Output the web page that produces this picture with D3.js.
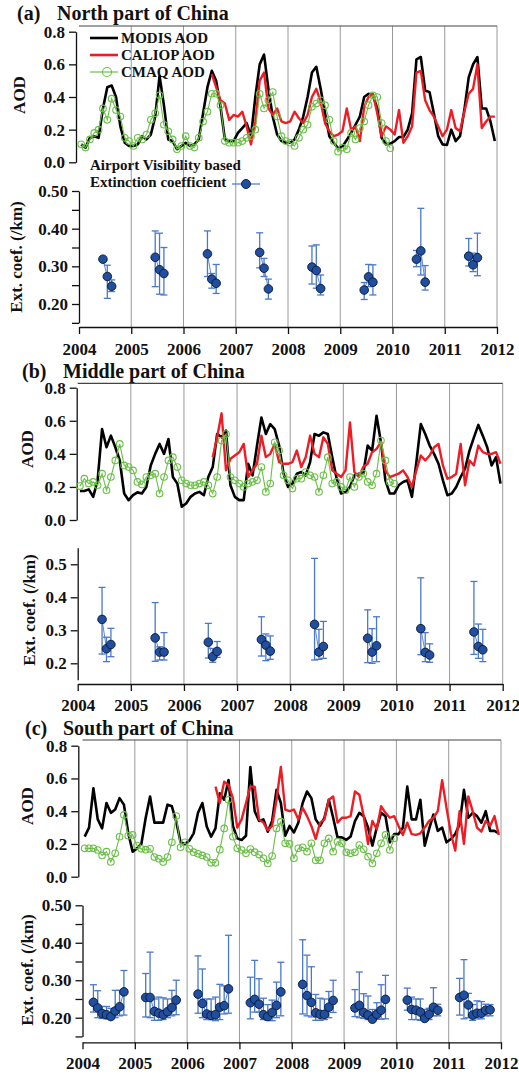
<!DOCTYPE html>
<html>
<head>
<meta charset="utf-8">
<script src="https://cdn.jsdelivr.net/npm/d3@7"></script>
<style>
  body { margin: 0; background: #fff; }
  text { font-family: "Liberation Serif", "Times New Roman", serif; font-weight: bold; fill: #111; }
</style>
</head>
<body>
<svg id="chart" width="519" height="1074"></svg>
<script>
// monthly series, index 0 = Jan 2004
const YEAR_TICKS = d3.range(2004, 2013);
const CALIOP_START = 30;   // Jul 2006

const modisNorth = [
  0.11, 0.09, 0.15, 0.16, 0.15, 0.33, 0.46, 0.47, 0.40, 0.22, 0.12, 0.10,
  0.10, 0.11, 0.16, 0.14, 0.17, 0.28, 0.53, 0.35, 0.14, 0.13, 0.08, 0.10,
  0.12, 0.10, 0.11, 0.14, 0.30, 0.46, 0.56, 0.50, 0.34, 0.14, 0.13, 0.13,
  0.18, 0.21, 0.24, 0.16, 0.40, 0.60, 0.66, 0.45, 0.28, 0.17, 0.13, 0.12,
  0.12, 0.14, 0.20, 0.28, 0.40, 0.55, 0.585, 0.45, 0.30, 0.16, 0.12, 0.086,
  0.096, 0.137, 0.18, 0.23, 0.28, 0.40, 0.42, 0.41, 0.33, 0.15, 0.11, 0.115,
  0.13, 0.155, 0.155, 0.20, 0.30, 0.63, 0.645, 0.44, 0.43, 0.30, 0.16, 0.11,
  0.106, 0.20, 0.13, 0.16, 0.32, 0.52, 0.60, 0.645, 0.33, 0.33, 0.25, 0.13
];
const caliopNorth = [
  0.54, 0.46, 0.38, 0.36, 0.26, 0.29,
  0.28, 0.31, 0.22, 0.11, 0.25, 0.50, 0.55, 0.33, 0.29, 0.33, 0.25, 0.24,
  0.25, 0.31, 0.27, 0.24, 0.29, 0.40, 0.45, 0.37, 0.24, 0.19, 0.16, 0.17,
  0.19, 0.33, 0.20, 0.22, 0.13, 0.34, 0.40, 0.42, 0.30, 0.16, 0.22, 0.20,
  0.17, 0.32, 0.12, 0.16, 0.22, 0.55, 0.56, 0.38, 0.32, 0.28, 0.22, 0.16,
  0.20, 0.32, 0.21, 0.19, 0.31, 0.42, 0.45, 0.60, 0.21, 0.25, 0.28, 0.28
];
const cmaqNorth = [
  0.11, 0.09, 0.14, 0.18, 0.20, 0.33, 0.26, 0.39, 0.32, 0.28, 0.15, 0.13,
  0.10, 0.15, 0.14, 0.17, 0.26, 0.30, 0.41, 0.23, 0.19, 0.14, 0.08, 0.10,
  0.16, 0.10, 0.09, 0.15, 0.25, 0.31, 0.42, 0.42, 0.35, 0.13, 0.12, 0.12,
  0.12, 0.13, 0.15, 0.16, 0.20, 0.42, 0.33, 0.38, 0.43, 0.28, 0.16, 0.13,
  0.12, 0.10, 0.15, 0.20, 0.23, 0.34, 0.36, 0.38, 0.35, 0.26, 0.13, 0.065,
  0.09, 0.08, 0.18, 0.14, 0.21, 0.25, 0.35, 0.41, 0.40, 0.24, 0.13, 0.086
];

const modisMiddle = [
  0.175, 0.175, 0.185, 0.14, 0.24, 0.55, 0.44, 0.51, 0.44, 0.36, 0.16, 0.12,
  0.15, 0.167, 0.16, 0.20, 0.33, 0.40, 0.46, 0.40, 0.49, 0.26, 0.22, 0.08,
  0.10, 0.14, 0.16, 0.17, 0.15, 0.26, 0.32, 0.52, 0.50, 0.54, 0.21, 0.14,
  0.12, 0.12, 0.34, 0.27, 0.45, 0.62, 0.52, 0.58, 0.55, 0.45, 0.28, 0.20,
  0.22, 0.28, 0.29, 0.27, 0.35, 0.52, 0.51, 0.53, 0.52, 0.38, 0.25, 0.16,
  0.17, 0.20, 0.27, 0.28, 0.28, 0.45, 0.42, 0.63, 0.47, 0.24, 0.16, 0.16,
  0.21, 0.23, 0.24, 0.14, 0.35, 0.58, 0.52, 0.45, 0.40, 0.34, 0.24, 0.15,
  0.16, 0.20, 0.26, 0.31, 0.42, 0.50, 0.575, 0.51, 0.44, 0.33, 0.38, 0.22
];
const caliopMiddle = [
  0.38, 0.50, 0.645, 0.30, 0.37, 0.39,
  0.41, 0.46, 0.26, 0.30, 0.34, 0.51, 0.38, 0.40, 0.46, 0.35, 0.34, 0.34,
  0.35, 0.42, 0.32, 0.38, 0.51, 0.40, 0.38, 0.50, 0.46, 0.30, 0.28, 0.26,
  0.30, 0.59, 0.29, 0.26, 0.32, 0.34, 0.41, 0.43, 0.47, 0.30, 0.26, 0.27,
  0.28, 0.30, 0.26, 0.20, 0.30, 0.39, 0.36, 0.39, 0.44, 0.46, 0.33, 0.25,
  0.26, 0.28, 0.46, 0.21, 0.36, 0.33, 0.45, 0.41, 0.40, 0.40, 0.41, 0.34
];
const cmaqMiddle = [
  0.205, 0.25, 0.22, 0.23, 0.21, 0.28, 0.18, 0.26, 0.36, 0.46, 0.33, 0.32,
  0.30, 0.23, 0.215, 0.26, 0.27, 0.28, 0.16, 0.26, 0.36, 0.38, 0.32, 0.24,
  0.22, 0.21, 0.21, 0.22, 0.23, 0.21, 0.16, 0.26, 0.48, 0.52, 0.26, 0.24,
  0.22, 0.20, 0.22, 0.23, 0.24, 0.32, 0.17, 0.22, 0.47, 0.42, 0.27, 0.24,
  0.19, 0.25, 0.25, 0.29, 0.27, 0.26, 0.17, 0.27, 0.38, 0.22, 0.23, 0.20,
  0.18, 0.26, 0.20, 0.26, 0.28, 0.23, 0.21, 0.28, 0.48, 0.36, 0.23, 0.22
];

const modisSouth = [
  0.245, 0.30, 0.54, 0.35, 0.295, 0.45, 0.39, 0.41, 0.48, 0.44, 0.265, 0.153,
  0.173, 0.20, 0.36, 0.49, 0.33, 0.33, 0.33, 0.44, 0.43, 0.336, 0.21, 0.20,
  0.22, 0.265, 0.39, 0.45, 0.306, 0.244, 0.295, 0.51, 0.47, 0.59, 0.31, 0.234,
  0.224, 0.25, 0.67, 0.40, 0.34, 0.35, 0.275, 0.34, 0.53, 0.45, 0.25, 0.31,
  0.27, 0.33, 0.45, 0.52, 0.48, 0.35, 0.31, 0.36, 0.47, 0.36, 0.24, 0.24,
  0.225, 0.245, 0.34, 0.39, 0.37, 0.30, 0.19, 0.30, 0.39, 0.37, 0.21, 0.26,
  0.26, 0.30, 0.55, 0.35, 0.35, 0.47, 0.19, 0.29, 0.38, 0.28, 0.30, 0.21,
  0.23, 0.26, 0.32, 0.53, 0.36, 0.39, 0.37, 0.33, 0.40, 0.28, 0.28, 0.265
];
const caliopSouth = [
  0.55, 0.45, 0.58, 0.56, 0.48, 0.30,
  0.35, 0.45, 0.55, 0.55, 0.35, 0.33, 0.285, 0.31, 0.47, 0.67, 0.41, 0.40,
  0.41, 0.35, 0.42, 0.37, 0.31, 0.23, 0.33, 0.35, 0.47, 0.49, 0.33, 0.36,
  0.36, 0.37, 0.52, 0.50, 0.37, 0.20, 0.34, 0.29, 0.43, 0.39, 0.36, 0.37,
  0.31, 0.255, 0.33, 0.26, 0.255, 0.265, 0.30, 0.34, 0.36, 0.40, 0.59, 0.42,
  0.265, 0.16, 0.40, 0.20, 0.49, 0.40, 0.30, 0.275, 0.34, 0.31, 0.37, 0.255
];
const cmaqSouth = [
  0.173, 0.173, 0.173, 0.163, 0.13, 0.153, 0.09, 0.143, 0.244, 0.377, 0.25, 0.255,
  0.19, 0.17, 0.165, 0.17, 0.12, 0.11, 0.09, 0.12, 0.21, 0.37, 0.18, 0.21,
  0.17, 0.15, 0.14, 0.13, 0.12, 0.085, 0.085, 0.165, 0.295, 0.47, 0.244, 0.173,
  0.163, 0.143, 0.169, 0.15, 0.135, 0.112, 0.081, 0.126, 0.295, 0.336, 0.204, 0.20,
  0.112, 0.173, 0.18, 0.153, 0.204, 0.10, 0.10, 0.204, 0.234, 0.153, 0.214, 0.204,
  0.149, 0.143, 0.149, 0.193, 0.167, 0.122, 0.081, 0.143, 0.204, 0.255, 0.163, 0.234
];

// airport visibility based extinction coefficient, one row per year 2004-2011
const extMonthsNorth = [5, 6, 7];            // Jun-Aug
const extMonthsSouth = [2, 3, 4, 5, 6, 7, 8, 9];  // Mar-Oct

const extNorthMean = [0.319, 0.273, 0.247, 0.324, 0.291, 0.281, 0.333, 0.266, 0.255, 0.337, 0.295, 0.240,
                      0.298, 0.289, 0.241, 0.237, 0.272, 0.258, 0.319, 0.341, 0.258, 0.327, 0.304, 0.323];
const extNorthLow  = [0.319, 0.215, 0.233, 0.246, 0.226, 0.224, 0.273, 0.242, 0.228, 0.296, 0.273, 0.213,
                      0.253, 0.242, 0.224, 0.212, 0.246, 0.224, 0.299, 0.277, 0.237, 0.301, 0.286, 0.275];
const extNorthHigh = [0.319, 0.303, 0.264, 0.394, 0.388, 0.350, 0.394, 0.281, 0.305, 0.389, 0.321, 0.266,
                      0.354, 0.357, 0.277, 0.257, 0.305, 0.304, 0.342, 0.454, 0.302, 0.374, 0.335, 0.388];

const extMiddleMean = [0.333, 0.244, 0.257, 0.277, 0.234, 0.234, 0.264, 0.220, 0.236, 0.272, 0.255, 0.237,
                       0.318, 0.234, 0.251, 0.276, 0.234, 0.253, 0.305, 0.233, 0.225, 0.295, 0.251, 0.241];
const extMiddleLow  = [0.228, 0.205, 0.220, 0.206, 0.210, 0.210, 0.216, 0.203, 0.218, 0.222, 0.208, 0.212,
                       0.210, 0.212, 0.215, 0.202, 0.200, 0.205, 0.226, 0.205, 0.203, 0.227, 0.215, 0.205];
const extMiddleHigh = [0.430, 0.279, 0.306, 0.384, 0.250, 0.293, 0.321, 0.245, 0.266, 0.341, 0.289, 0.283,
                       0.518, 0.303, 0.327, 0.362, 0.305, 0.341, 0.459, 0.293, 0.259, 0.448, 0.319, 0.303];

const extSouthMean = [
  0.241, 0.226, 0.211, 0.208, 0.203, 0.218, 0.229, 0.269,
  0.254, 0.254, 0.217, 0.212, 0.208, 0.216, 0.227, 0.247,
  0.263, 0.238, 0.210, 0.206, 0.208, 0.228, 0.232, 0.277,
  0.240, 0.249, 0.236, 0.208, 0.203, 0.214, 0.233, 0.269,
  0.289, 0.259, 0.241, 0.213, 0.209, 0.209, 0.228, 0.246,
  0.226, 0.233, 0.214, 0.207, 0.196, 0.209, 0.220, 0.249,
  0.247, 0.222, 0.220, 0.215, 0.198, 0.209, 0.228, 0.220,
  0.254, 0.260, 0.234, 0.207, 0.212, 0.212, 0.220, 0.221
];
const extSouthLow = [
  0.215, 0.200, 0.198, 0.197, 0.197, 0.200, 0.205, 0.207,
  0.202, 0.200, 0.193, 0.193, 0.195, 0.200, 0.205, 0.208,
  0.212, 0.200, 0.195, 0.195, 0.192, 0.195, 0.210, 0.212,
  0.197, 0.215, 0.215, 0.195, 0.193, 0.192, 0.200, 0.205,
  0.210, 0.205, 0.202, 0.193, 0.193, 0.195, 0.200, 0.214,
  0.203, 0.200, 0.198, 0.195, 0.195, 0.196, 0.196, 0.197,
  0.220, 0.195, 0.195, 0.193, 0.193, 0.195, 0.205, 0.205,
  0.207, 0.197, 0.200, 0.193, 0.197, 0.197, 0.205, 0.205
];
const extSouthHigh = [
  0.288, 0.272, 0.230, 0.230, 0.225, 0.273, 0.273, 0.326,
  0.318, 0.375, 0.250, 0.255, 0.253, 0.250, 0.273, 0.300,
  0.365, 0.330, 0.250, 0.250, 0.255, 0.289, 0.285, 0.420,
  0.308, 0.353, 0.304, 0.252, 0.235, 0.247, 0.295, 0.348,
  0.408, 0.367, 0.336, 0.262, 0.252, 0.250, 0.270, 0.300,
  0.275, 0.322, 0.264, 0.258, 0.222, 0.240, 0.288, 0.313,
  0.279, 0.255, 0.250, 0.250, 0.222, 0.225, 0.280, 0.236,
  0.305, 0.355, 0.265, 0.235, 0.245, 0.243, 0.236, 0.235
];

const COLORS = { modis: '#000', caliop: '#ee1c24', cmaq: '#6abf47',
                 extFill: '#1f4f9e', extLine: '#4a78cc', grid: '#9a9a9a' };

const panels = [
  { letter: '(a)', title: 'North part of China', letterX: 17, titleX: 57, titleY: 20,
    modis: modisNorth, caliop: caliopNorth, cmaq: cmaqNorth,
    extMonths: extMonthsNorth, extMean: extNorthMean, extLow: extNorthLow, extHigh: extNorthHigh,
    x0: 79, x1: 497, top: 26, aod08: 31.7, aod0: 162.3, aodAxisX: 76,
    ext20: 304, ext50: 191, extTop: 0.50, extTicks: d3.range(0.15, 0.5001, 0.05), extFmt: '.2f',
    axisY: 327, yearY: 355, aodLabel: [19, 95], extLabel: [16, 257], legend: true },
  { letter: '(b)', title: 'Middle part of China', letterX: 22, titleX: 63, titleY: 378,
    modis: modisMiddle, caliop: caliopMiddle, cmaq: cmaqMiddle,
    extMonths: extMonthsNorth, extMean: extMiddleMean, extLow: extMiddleLow, extHigh: extMiddleHigh,
    x0: 77.7, x1: 502.7, top: 383.3, aod08: 387.7, aod0: 520, aodAxisX: 76.7,
    ext20: 663.3, ext50: 564.3, extTop: 0.55, extTicks: [0.2, 0.3, 0.4, 0.5], extFmt: '.1f',
    axisY: 684, yearY: 711, aodLabel: [27, 449], extLabel: [29, 610], legend: false },
  { letter: '(c)', title: 'South part of China', letterX: 25, titleX: 63, titleY: 735,
    modis: modisSouth, caliop: caliopSouth, cmaq: cmaqSouth,
    extMonths: extMonthsSouth, extMean: extSouthMean, extLow: extSouthLow, extHigh: extSouthHigh,
    x0: 82.5, x1: 501, top: 740, aod08: 745.7, aod0: 876.7, aodAxisX: 78.3,
    ext20: 1017.7, ext50: 905.3, extTop: 0.50, extTicks: d3.range(0.15, 0.5001, 0.05), extFmt: '.2f',
    axisY: 1042.3, yearY: 1069, aodLabel: [27, 806], extLabel: [27, 970], legend: false }
];

const svg = d3.select('#chart');

function styleAxis(g) {
  g.selectAll('path.domain').attr('stroke', '#111').attr('stroke-width', 1.3);
  g.selectAll('.tick line').attr('stroke', '#111').attr('stroke-width', 1.3);
  g.selectAll('.tick text')
    .attr('font-family', '"Liberation Serif", "Times New Roman", serif')
    .attr('font-weight', 'bold').attr('font-size', 17).attr('fill', '#111');
}

function drawPanel(p) {
  const g = svg.append('g');
  const x = d3.scaleLinear().domain([2004, 2012]).range([p.x0, p.x1]);
  const aodY = d3.scaleLinear().domain([0, 0.8]).range([p.aod0, p.aod08]);
  const base = d3.scaleLinear().domain([0.2, 0.5]).range([p.ext20, p.ext50]);
  const extY = d3.scaleLinear().domain([0.15, p.extTop]).range([base(0.15), base(p.extTop)]);
  const monthX = i => x(2004 + (i + 0.5) / 12);

  // title
  g.append('text').attr('x', p.letterX).attr('y', p.titleY).attr('font-size', 20).text(p.letter);
  g.append('text').attr('x', p.titleX).attr('y', p.titleY).attr('font-size', 20).text(p.title);

  // year grid lines and frame
  g.append('g').selectAll('line').data(YEAR_TICKS.slice(1)).join('line')
    .attr('x1', d => x(d)).attr('x2', d => x(d))
    .attr('y1', p.top).attr('y2', p.axisY)
    .attr('stroke', COLORS.grid).attr('stroke-width', 1);
  g.append('line').attr('x1', x(2004)).attr('x2', x(2012))
    .attr('y1', p.top).attr('y2', p.top).attr('stroke', '#444').attr('stroke-width', 1.2);

  // axes
  g.append('g').attr('transform', `translate(0,${p.axisY})`)
    .call(d3.axisBottom(x).tickValues(YEAR_TICKS).tickFormat(d3.format('d'))
      .tickSize(7).tickSizeOuter(0).tickPadding(5))
    .call(styleAxis)
    .call(a => a.selectAll('.tick text').attr('dy', null).attr('y', p.yearY - p.axisY));

  g.append('g').attr('transform', `translate(${p.aodAxisX},0)`)
    .call(d3.axisLeft(aodY).tickValues([0, 0.2, 0.4, 0.6, 0.8]).tickFormat(d3.format('.1f'))
      .tickSize(7).tickSizeOuter(0).tickPadding(4))
    .call(styleAxis);

  const major = [0.2, 0.3, 0.4, 0.5];
  const fmt = d3.format(p.extFmt);
  g.append('g').attr('transform', `translate(${p.x0},0)`)
    .call(d3.axisLeft(extY).tickValues(p.extTicks)
      .tickFormat(d => major.some(m => Math.abs(m - d) < 1e-6) ? fmt(d) : '')
      .tickSize(7).tickSizeOuter(0).tickPadding(4))
    .call(styleAxis);

  // axis titles
  g.append('text').attr('transform', `translate(${p.aodLabel[0]},${p.aodLabel[1]}) rotate(-90)`)
    .attr('text-anchor', 'middle').attr('dominant-baseline', 'central')
    .attr('font-size', 17).text('AOD');
  g.append('text').attr('transform', `translate(${p.extLabel[0]},${p.extLabel[1]}) rotate(-90)`)
    .attr('text-anchor', 'middle').attr('dominant-baseline', 'central')
    .attr('font-size', 17).text('Ext. coef. (/km)');

  if (p.legend) drawLegend(g);

  // AOD series
  const line = start => d3.line().x((d, i) => monthX(start + i)).y(d => aodY(d));
  g.append('path').datum(p.modis).attr('d', line(0))
    .attr('fill', 'none').attr('stroke', COLORS.modis).attr('stroke-width', 2.6)
    .attr('stroke-linejoin', 'round');
  g.append('path').datum(p.caliop).attr('d', line(CALIOP_START))
    .attr('fill', 'none').attr('stroke', COLORS.caliop).attr('stroke-width', 2.4)
    .attr('stroke-linejoin', 'round');
  g.append('path').datum(p.cmaq).attr('d', line(0))
    .attr('fill', 'none').attr('stroke', COLORS.cmaq).attr('stroke-width', 1.1);
  g.append('g').selectAll('circle').data(p.cmaq).join('circle')
    .attr('cx', (d, i) => monthX(i)).attr('cy', d => aodY(d)).attr('r', 3.3)
    .attr('fill', 'none').attr('stroke', COLORS.cmaq).attr('stroke-width', 1.1);

  // extinction coefficient: points per year, joined within the year
  const n = p.extMonths.length;
  const pts = p.extMean.map((v, k) => ({
    x: 2004 + Math.floor(k / n) + (p.extMonths[k % n] + 0.5) / 12,
    year: Math.floor(k / n), v, lo: p.extLow[k], hi: p.extHigh[k]
  }));
  const byYear = d3.groups(pts, d => d.year).map(d => d[1]);
  g.append('g').selectAll('path').data(byYear).join('path')
    .attr('d', d3.line().x(d => x(d.x)).y(d => extY(d.v)))
    .attr('fill', 'none').attr('stroke', COLORS.extLine).attr('stroke-width', 0.9);
  const eb = g.append('g').attr('stroke', COLORS.extLine).attr('stroke-width', 1.3);
  eb.selectAll('line.bar').data(pts).join('line').attr('class', 'bar')
    .attr('x1', d => x(d.x)).attr('x2', d => x(d.x))
    .attr('y1', d => extY(d.lo)).attr('y2', d => extY(d.hi));
  eb.selectAll('line.capHi').data(pts).join('line').attr('class', 'capHi')
    .attr('x1', d => x(d.x) - 3.5).attr('x2', d => x(d.x) + 3.5)
    .attr('y1', d => extY(d.hi)).attr('y2', d => extY(d.hi));
  eb.selectAll('line.capLo').data(pts).join('line').attr('class', 'capLo')
    .attr('x1', d => x(d.x) - 3.5).attr('x2', d => x(d.x) + 3.5)
    .attr('y1', d => extY(d.lo)).attr('y2', d => extY(d.lo));
  g.append('g').selectAll('circle').data(pts).join('circle')
    .attr('cx', d => x(d.x)).attr('cy', d => extY(d.v)).attr('r', 4.3)
    .attr('fill', COLORS.extFill).attr('stroke', '#0b1633').attr('stroke-width', 0.9);
}

function drawLegend(g) {
  const rows = [
    { label: 'MODIS AOD', color: COLORS.modis, w: 2.6, y: 38 },
    { label: 'CALIOP AOD', color: COLORS.caliop, w: 2.6, y: 55 },
    { label: 'CMAQ AOD', color: COLORS.cmaq, w: 1.2, y: 72, marker: true }
  ];
  const lg = g.append('g');
  rows.forEach(r => {
    lg.append('line').attr('x1', 90).attr('x2', 118).attr('y1', r.y).attr('y2', r.y)
      .attr('stroke', r.color).attr('stroke-width', r.w);
    if (r.marker)
      lg.append('circle').attr('cx', 107).attr('cy', r.y).attr('r', 4.5)
        .attr('fill', 'none').attr('stroke', r.color).attr('stroke-width', 1.1);
    lg.append('text').attr('x', 121).attr('y', r.y + 5).attr('font-size', 15).text(r.label);
  });
  lg.append('text').attr('x', 90).attr('y', 170).attr('font-size', 15).text('Airport Visibility based');
  lg.append('text').attr('x', 90).attr('y', 187).attr('font-size', 15).text('Extinction coefficient');
  lg.append('line').attr('x1', 232).attr('x2', 260).attr('y1', 184).attr('y2', 184)
    .attr('stroke', COLORS.extLine).attr('stroke-width', 1.2);
  lg.append('circle').attr('cx', 246).attr('cy', 184).attr('r', 4.5)
    .attr('fill', COLORS.extFill).attr('stroke', '#0b1633').attr('stroke-width', 0.9);
}

panels.forEach(drawPanel);
</script>
</body>
</html>
